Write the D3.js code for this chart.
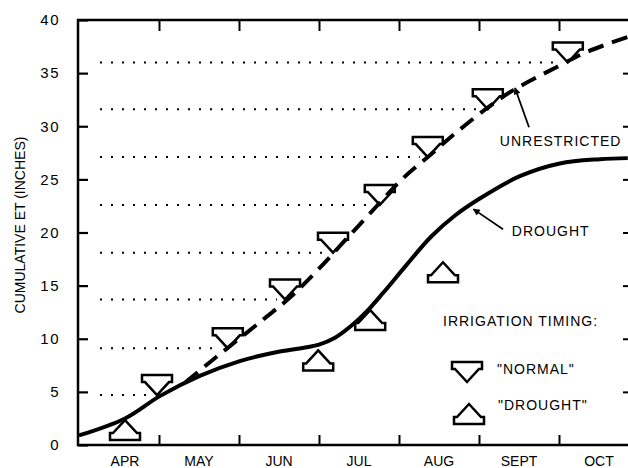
<!DOCTYPE html>
<html>
<head>
<meta charset="utf-8">
<script src="https://cdn.jsdelivr.net/npm/d3@7"></script>
<style>
  body { margin: 0; background: #fff; }
  text { font-family: "Liberation Sans", Arial, sans-serif; fill: #000; }
</style>
</head>
<body>
<div id="chart"></div>
<script>
// months on x (0 = Apr 1), cumulative ET in inches on y
var months = ["APR", "MAY", "JUN", "JUL", "AUG", "SEPT", "OCT"];
var yTicks = [0, 5, 10, 15, 20, 25, 30, 35, 40];

var droughtMonth = [0, 0.575, 1.01, 1.51, 2.01, 2.51, 2.85, 3.0, 3.2, 3.4, 3.6, 3.8, 4.1, 4.4, 4.7, 5.01, 5.51, 6.01, 6.51, 6.86];
var droughtET    = [0.9, 2.5, 4.6, 6.5, 7.9, 8.8, 9.2, 9.45, 10.1, 11.2, 12.6, 14.3, 17.0, 19.6, 21.6, 23.2, 25.3, 26.5, 26.9, 27.0];

var unrestrictedMonth = [1.33, 1.72, 2.3, 2.64, 3.0, 3.38, 3.76, 4.05, 4.39, 4.73, 5.1, 5.43, 5.98, 6.35, 6.86];
var unrestrictedET    = [5.9, 8.3, 11.8, 13.9, 16.6, 19.7, 22.8, 25.1, 27.3, 29.5, 31.7, 33.4, 35.6, 37.0, 38.4];

// irrigation timing markers
var normalMonth = [0.975, 1.86, 2.575, 3.175, 3.76, 4.36, 5.11, 6.11];
var normalET    = [4.7, 9.1, 13.7, 18.1, 22.6, 27.1, 31.6, 36.0];
var droughtTimingMonth = [0.575, 2.99, 3.64, 4.55];
var droughtTimingET    = [2.35, 8.9, 12.7, 17.2];

var width = 628, height = 468;
var pl = 78, pt = 20, pb = 445, pr = 632;

var svg = d3.select("#chart").append("svg").attr("width", width).attr("height", height);

var x = d3.scaleLinear().domain([0, 7]).range([79, 639]);
var y = d3.scaleLinear().domain([0, 40]).range([pb, pt]);

// arrow head
svg.append("defs").append("marker").attr("id", "head").attr("viewBox", "0 0 10 10")
  .attr("refX", 9).attr("refY", 5).attr("markerWidth", 9).attr("markerHeight", 7)
  .attr("markerUnits", "userSpaceOnUse").attr("orient", "auto")
  .append("path").attr("d", "M0,0 L10,5 L0,10 Z").attr("fill", "#000");

// dotted levels from the axis to each "normal" marker
svg.selectAll(".level").data(normalMonth).enter().append("line")
  .attr("x1", 100).attr("x2", (d, i) => x(d) - 8)
  .attr("y1", (d, i) => y(normalET[i])).attr("y2", (d, i) => y(normalET[i]))
  .attr("stroke", "#000").attr("stroke-width", 2).attr("stroke-dasharray", "2 9");

// frame
svg.append("path").attr("d", "M" + pl + "," + pb + "V" + pt + "H" + pr + "V" + pb + "Z")
  .attr("fill", "none").attr("stroke", "#000").attr("stroke-width", 2.5);

// y ticks, left and right, pointing in
var yAxisL = d3.axisLeft(y).tickValues(yTicks).tickSize(-10).tickPadding(18).tickFormat(d3.format("d"));
var gl = svg.append("g").attr("transform", "translate(" + pl + ",0)").call(yAxisL);
gl.select(".domain").remove();
gl.selectAll(".tick line").attr("stroke-width", 2.2);
gl.selectAll(".tick text").attr("font-size", 15).attr("letter-spacing", 1.5)
  .attr("font-family", "Liberation Sans, Arial, sans-serif");

var gr = svg.append("g").attr("transform", "translate(" + pr + ",0)")
  .call(d3.axisRight(y).tickValues(yTicks.slice(1, 8)).tickSize(-9).tickFormat(""));
gr.select(".domain").remove();
gr.selectAll(".tick line").attr("stroke-width", 2);

// month ticks bottom and top
var monthBounds = d3.range(1, 7);
var gb = svg.append("g").attr("transform", "translate(0," + pb + ")")
  .call(d3.axisBottom(x).tickValues(monthBounds).tickSize(-10).tickFormat(""));
gb.select(".domain").remove();
gb.selectAll(".tick line").attr("stroke-width", 2);
var gt = svg.append("g").attr("transform", "translate(0," + pt + ")")
  .call(d3.axisTop(x).tickValues(monthBounds).tickSize(-11).tickFormat(""));
gt.select(".domain").remove();
gt.selectAll(".tick line").attr("stroke-width", 2);

svg.selectAll(".month").data(months).enter().append("text")
  .attr("x", (d, i) => x(i + 0.5) + (i == 0 ? 6 : 0)).attr("y", 462)
  .attr("text-anchor", "middle").attr("dominant-baseline", "middle")
  .attr("font-size", 14).text(d => d);

svg.append("text").attr("transform", "translate(21,225) rotate(-90)")
  .attr("text-anchor", "middle").attr("dominant-baseline", "middle")
  .attr("font-size", 14).text("CUMULATIVE ET (INCHES)");

// marker shapes, tip at origin
var downShape = "M0,0 L-12,-13 L-15,-13 L-15,-20 L15,-20 L15,-13 L12,-13 Z";
var upShape = "M0,0 L-12,13 L-15,13 L-15,20 L15,20 L15,13 L12,13 Z";

svg.selectAll(".normal").data(normalMonth).enter().append("path")
  .attr("transform", (d, i) => "translate(" + x(d) + "," + y(normalET[i]) + ")")
  .attr("d", downShape).attr("fill", "#fff").attr("stroke", "#000")
  .attr("stroke-width", 2.5).attr("stroke-linejoin", "miter");

svg.selectAll(".dtiming").data(droughtTimingMonth).enter().append("path")
  .attr("transform", (d, i) => "translate(" + x(d) + "," + y(droughtTimingET[i]) + ")")
  .attr("d", upShape).attr("fill", "#fff").attr("stroke", "#000")
  .attr("stroke-width", 2.5).attr("stroke-linejoin", "miter");

// curves
var line = d3.line().x(d => x(d[0])).y(d => y(d[1])).curve(d3.curveCatmullRom);

svg.append("path").datum(d3.zip(droughtMonth, droughtET)).attr("d", line)
  .attr("fill", "none").attr("stroke", "#000").attr("stroke-width", 4);

svg.append("path").datum(d3.zip(unrestrictedMonth, unrestrictedET)).attr("d", line)
  .attr("fill", "none").attr("stroke", "#000").attr("stroke-width", 4)
  .attr("stroke-dasharray", "16 9");

// curve labels with arrows
svg.append("line").attr("x1", x(5.625)).attr("y1", y(29.9)).attr("x2", x(5.45)).attr("y2", y(33.6))
  .attr("stroke", "#000").attr("stroke-width", 1.8).attr("marker-end", "url(#head)");
svg.append("text").attr("x", x(5.26)).attr("y", y(28.5)).attr("dominant-baseline", "middle")
  .attr("font-size", 14).attr("letter-spacing", 1).text("UNRESTRICTED");

svg.append("line").attr("x1", x(5.3)).attr("y1", y(20.3)).attr("x2", x(4.93)).attr("y2", y(22.2))
  .attr("stroke", "#000").attr("stroke-width", 1.8).attr("marker-end", "url(#head)");
svg.append("text").attr("x", x(5.41)).attr("y", y(20.05)).attr("dominant-baseline", "middle")
  .attr("font-size", 14).attr("letter-spacing", 1).text("DROUGHT");

// legend
var lg = svg.append("g");
lg.append("text").attr("x", 443).attr("y", 322).attr("dominant-baseline", "middle")
  .attr("font-size", 14).attr("letter-spacing", 1).text("IRRIGATION TIMING:");
lg.append("path").attr("transform", "translate(467,382)").attr("d", downShape)
  .attr("fill", "#fff").attr("stroke", "#000").attr("stroke-width", 2.5);
lg.append("text").attr("x", 497).attr("y", 370).attr("dominant-baseline", "middle")
  .attr("font-size", 14).attr("letter-spacing", 1).text("\"NORMAL\"");
lg.append("path").attr("transform", "translate(469,404)").attr("d", upShape)
  .attr("fill", "#fff").attr("stroke", "#000").attr("stroke-width", 2.5);
lg.append("text").attr("x", 498).attr("y", 406).attr("dominant-baseline", "middle")
  .attr("font-size", 14).attr("letter-spacing", 1).text("\"DROUGHT\"");
</script>
</body>
</html>
